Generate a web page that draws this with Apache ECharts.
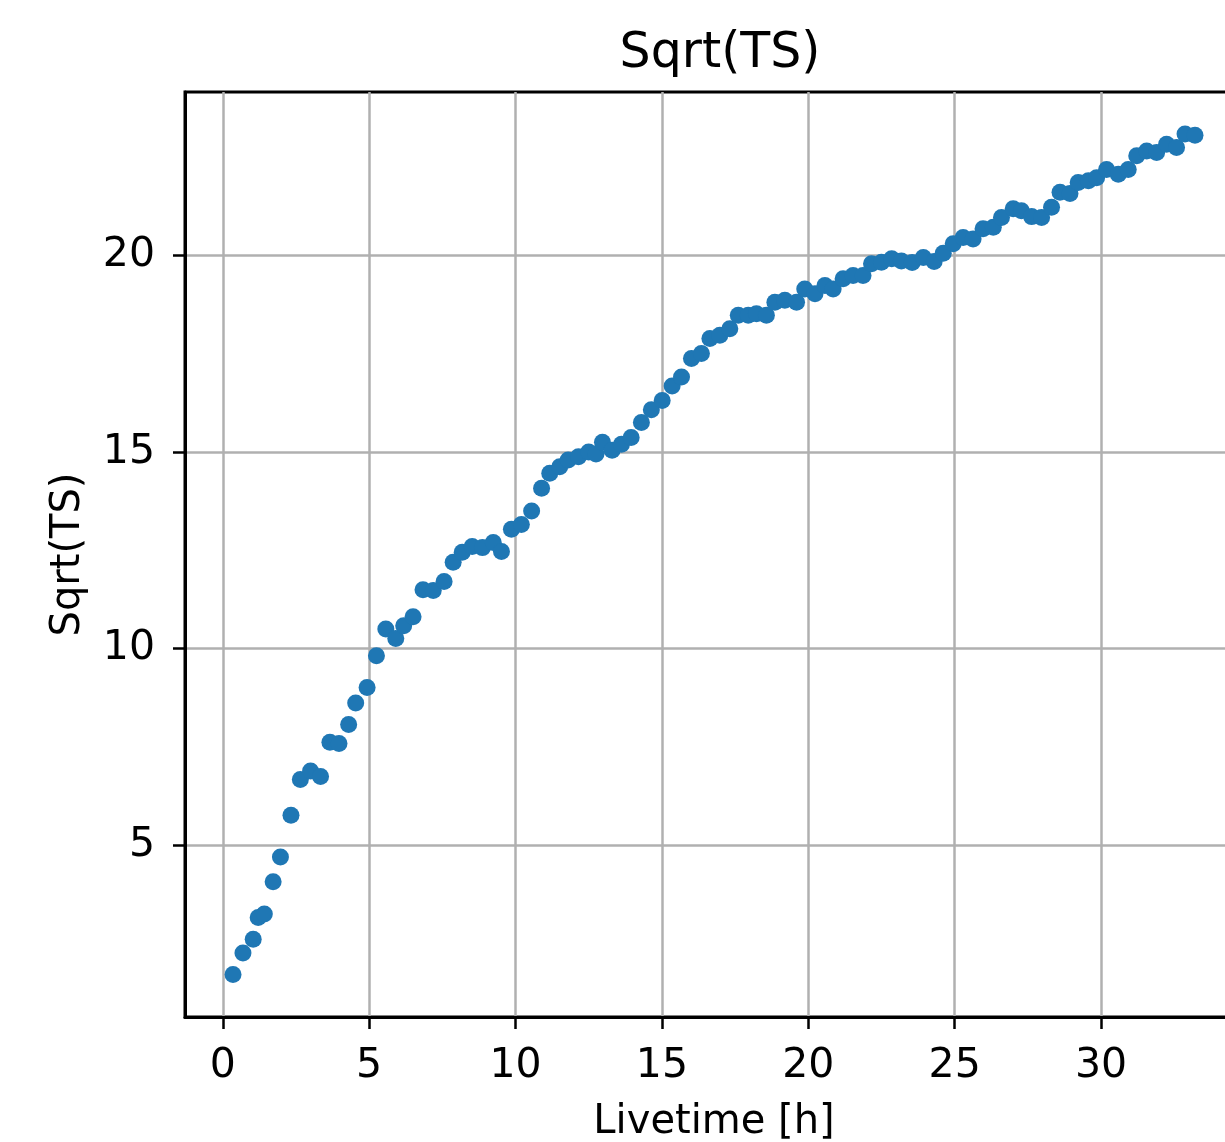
<!DOCTYPE html>
<html>
<head>
<meta charset="utf-8">
<script src="https://cdn.jsdelivr.net/npm/echarts@6/dist/echarts.min.js"></script>
<style>
html,body{margin:0;padding:0;background:#fff;overflow:hidden;}
#chart{width:1300px;height:1142px;}
</style>
</head>
<body>
<div id="chart"></div>
<script>
const livetime = [0.35,0.69,1.04,1.21,1.42,1.72,1.97,2.33,2.65,3.00,3.34,3.66,3.97,4.30,4.54,4.93,5.25,5.57,5.91,6.18,6.50,6.84,7.19,7.56,7.87,8.18,8.52,8.87,9.24,9.52,9.86,10.20,10.55,10.89,11.17,11.51,11.80,12.15,12.50,12.75,12.97,13.30,13.62,13.95,14.30,14.64,15.01,15.35,15.67,16.01,16.35,16.64,16.98,17.32,17.61,17.95,18.23,18.57,18.86,19.20,19.60,19.88,20.23,20.57,20.85,21.19,21.53,21.87,22.16,22.50,22.85,23.18,23.55,23.93,24.30,24.61,24.95,25.29,25.63,25.97,26.32,26.60,27.00,27.28,27.63,27.97,28.31,28.60,28.94,29.22,29.57,29.85,30.19,30.59,30.93,31.22,31.56,31.90,32.24,32.58,32.87,33.21];
const sqrtTS = [1.71,2.26,2.61,3.16,3.25,4.07,4.70,5.76,6.67,6.89,6.75,7.62,7.59,8.07,8.62,9.01,9.82,10.50,10.26,10.58,10.81,11.50,11.48,11.71,12.20,12.45,12.60,12.57,12.70,12.47,13.04,13.16,13.50,14.08,14.46,14.63,14.80,14.88,15.00,14.95,15.25,15.05,15.20,15.37,15.75,16.08,16.31,16.68,16.91,17.38,17.51,17.89,17.97,18.14,18.48,18.48,18.52,18.48,18.81,18.86,18.81,19.15,19.03,19.24,19.15,19.41,19.49,19.49,19.79,19.83,19.92,19.86,19.82,19.95,19.85,20.06,20.30,20.46,20.42,20.68,20.72,20.97,21.19,21.14,20.99,20.97,21.23,21.61,21.58,21.86,21.90,21.98,22.19,22.07,22.19,22.54,22.66,22.62,22.83,22.75,23.09,23.06];
const xTicks = [0,5,10,15,20,25,30];
const yTicks = [5,10,15,20];

const FONT = '"DejaVu Sans", sans-serif';
const chart = echarts.init(document.getElementById('chart'), null, {renderer:'canvas'});
const pts = livetime.map((x,i)=>[x, sqrtTS[i]]);
chart.setOption({
  animation:false,
  backgroundColor:'#fff',
  title:{
    text:'Sqrt(TS)', left:715, textAlign:'center', top:25,
    textStyle:{fontFamily:FONT, fontSize:49, fontWeight:'normal', color:'#000', lineHeight:49}
  },
  grid:{left:185, top:92, width:1058, height:925, show:true, borderColor:'#000', borderWidth:3, backgroundColor:'transparent', outerBoundsMode:'none', containLabel:false},
  xAxis:{
    type:'value', min:-1.29, max:34.85,
    name:'Livetime [h]', nameLocation:'middle', nameGap:86,
    nameTextStyle:{fontFamily:FONT, fontSize:40, color:'#000'},
    axisLine:{show:true, onZero:false, lineStyle:{color:'#000', width:3}},
    axisTick:{show:true, length:12, lineStyle:{color:'#000', width:2.5}, customValues:xTicks},
    axisLabel:{fontFamily:FONT, fontSize:41, color:'#000', margin:29, customValues:xTicks},
    splitLine:{show:true, lineStyle:{color:'#b0b0b0', width:2.5}}
  },
  yAxis:{
    type:'value', min:0.63, max:24.16,
    name:'Sqrt(TS)', nameLocation:'middle', nameGap:96, nameRotate:90,
    nameTextStyle:{fontFamily:FONT, fontSize:40, color:'#000'},
    axisLine:{show:true, onZero:false, lineStyle:{color:'#000', width:3}},
    axisTick:{show:true, length:12, lineStyle:{color:'#000', width:2.5}, customValues:yTicks},
    axisLabel:{fontFamily:FONT, fontSize:41, color:'#000', margin:30, customValues:yTicks},
    splitLine:{show:true, lineStyle:{color:'#b0b0b0', width:2.5}}
  },
  series:[{
    type:'scatter', data:pts, symbol:'circle', symbolSize:17,
    itemStyle:{color:'#1f77b4', opacity:1}
  }]
});
</script>
</body>
</html>
